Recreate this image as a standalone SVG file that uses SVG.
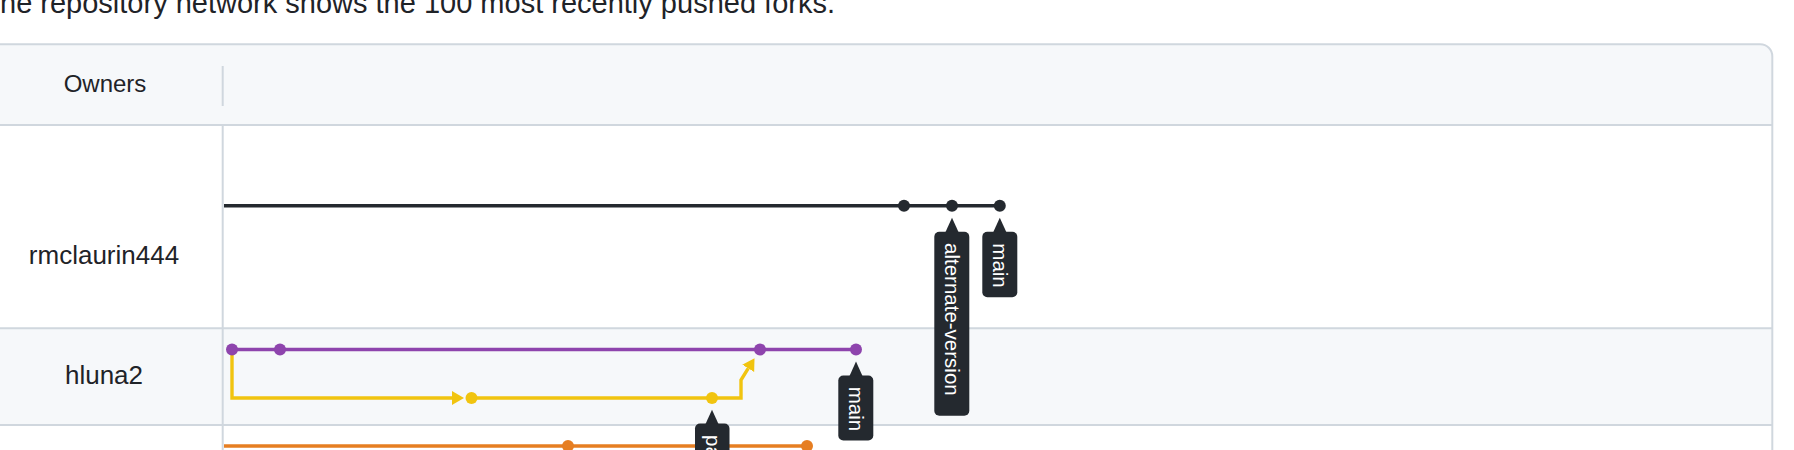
<svg xmlns="http://www.w3.org/2000/svg" width="1794" height="450" viewBox="0 0 1794 450">
<style>
.txt{font-family:"Liberation Sans",Arial,Helvetica,sans-serif;fill:#1f2328}
.grid{stroke:#d0d7de;stroke-width:2;fill:none}
.tip{fill:#24292f}
.tipt{font-family:"Liberation Sans",Arial,Helvetica,sans-serif;font-size:20.5px;fill:#ffffff}
.ln{fill:none;stroke-width:3.4;stroke-linejoin:miter}
</style>
<defs>
<marker id="arrowY" markerUnits="userSpaceOnUse" markerWidth="14" markerHeight="16" refX="0" refY="7" orient="auto" viewBox="0 0 14 16">
<path d="M0,0 L12,7 L0,14 Z" fill="#f1c40f"/>
</marker>
</defs>
<rect width="1794" height="450" fill="#ffffff"/>
<text class="txt" x="0" y="13.3" font-size="29">ne repository network shows the 100 most recently pushed forks.</text>
<g id="table">
<path d="M-20,44.3 H1760.3 A12,12 0 0 1 1772.3,56.3 V125 H-20 Z" fill="#f6f8fa"/>
<rect x="-20" y="328.3" width="1792.3" height="96.7" fill="#f6f8fa"/>
<path class="grid" d="M-20,44.3 H1760.3 A12,12 0 0 1 1772.3,56.3 V460"/>
<path class="grid" d="M-20,125 H1772.3 M-20,328.3 H1772.3 M-20,425 H1772.3"/>
<path class="grid" d="M222.7,66 V106 M222.7,125 V460"/>
</g>
<g id="owners-header"><text class="txt" x="105" y="91.7" font-size="24" text-anchor="middle">Owners</text></g>
<g id="owner-rmclaurin444"><text class="txt" x="104" y="264" font-size="26" text-anchor="middle">rmclaurin444</text></g>
<g id="owner-hluna2"><text class="txt" x="104" y="384" font-size="26" text-anchor="middle">hluna2</text></g>
<g id="connectors">
<path class="ln" stroke="#24292f" d="M224,205.7 H1000"/>
<path class="ln" stroke="#8e44ad" d="M232,349.5 H856"/>
<path class="ln" stroke="#f1c40f" d="M232,349.5 V398 H452" marker-end="url(#arrowY)"/>
<path class="ln" stroke="#f1c40f" d="M471.5,398 H741 V380 L748.2,368.4" marker-end="url(#arrowY)"/>
<path class="ln" stroke="#e67e22" d="M224,446 H807"/>
</g>
<g id="commits-rmclaurin444" fill="#24292f">
<circle cx="904" cy="205.7" r="6"/>
<circle cx="952" cy="205.7" r="6"/>
<circle cx="999.8" cy="205.7" r="6"/>
</g>
<g id="commits-hluna2" fill="#8e44ad">
<circle cx="232" cy="349.5" r="6"/>
<circle cx="280" cy="349.5" r="6"/>
<circle cx="760" cy="349.5" r="6"/>
<circle cx="856" cy="349.5" r="6"/>
</g>
<g id="commits-hluna2-branch" fill="#f1c40f">
<circle cx="471.5" cy="398" r="6"/>
<circle cx="712" cy="398" r="6"/>
</g>
<g id="commits-row3" fill="#e67e22">
<circle cx="568" cy="446" r="6"/>
<circle cx="807" cy="446" r="6"/>
</g>
<g id="label-alternate-version">
<path class="tip" d="M952,217.7 L958.5,232 L945.5,232 Z"/>
<rect class="tip" x="934.3" y="231.7" width="35" height="184" rx="5"/>
<text class="tipt" transform="translate(945.2,243) rotate(90)">alternate-version</text>
</g>
<g id="label-main-rmclaurin444">
<path class="tip" d="M999.8,217.7 L1006.3,232 L993.3,232 Z"/>
<rect class="tip" x="982.3" y="231.7" width="35" height="65.6" rx="5"/>
<text class="tipt" transform="translate(993.3,243.3) rotate(90)">main</text>
</g>
<g id="label-main-hluna2">
<path class="tip" d="M856,361.5 L862.5,376 L849.5,376 Z"/>
<rect class="tip" x="838.3" y="375.5" width="35" height="65" rx="5"/>
<text class="tipt" transform="translate(849.3,386.7) rotate(90)">main</text>
</g>
<g id="label-pa">
<path class="tip" d="M712,409.7 L718.5,424 L705.5,424 Z"/>
<rect class="tip" x="695" y="423.5" width="34.5" height="60" rx="5"/>
<text class="tipt" transform="translate(705.5,435) rotate(90)">pa</text>
</g>
</svg>
